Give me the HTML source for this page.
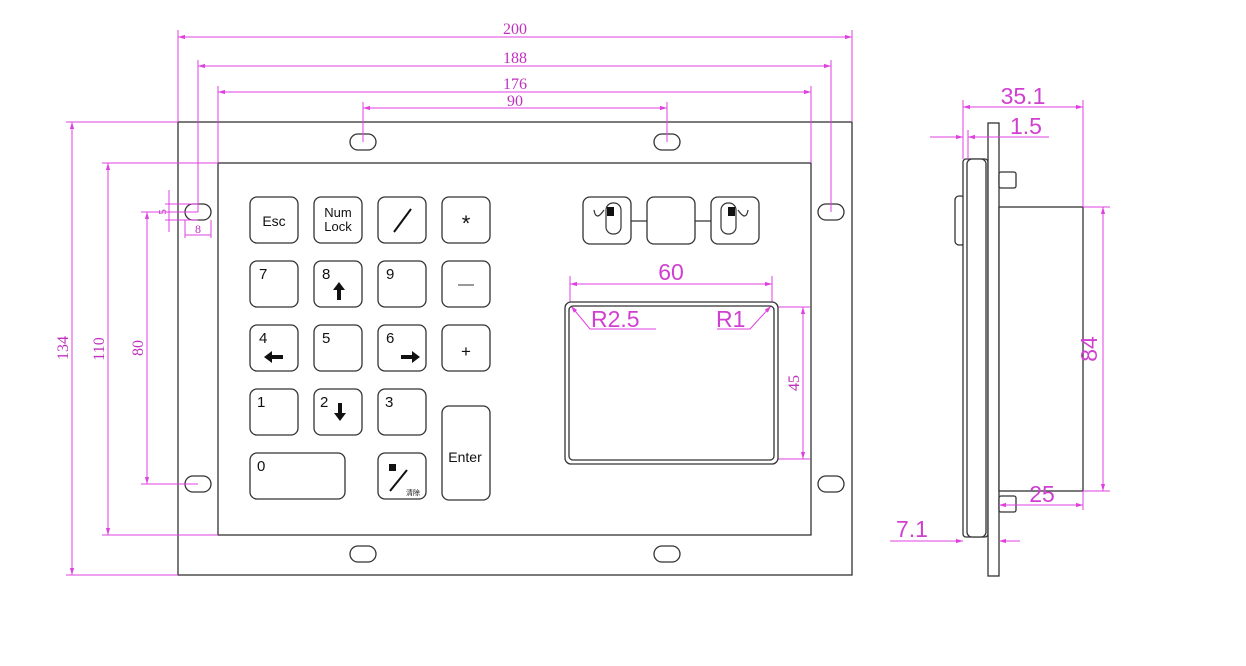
<!DOCTYPE html>
<html><head><meta charset="utf-8"><style>
body{margin:0;background:#fff;}
svg{display:block;font-family:"Liberation Sans","Noto Sans CJK SC",sans-serif;}
.k{fill:#fff;stroke:#333;stroke-width:1.3}
.d{stroke:#e040e0;stroke-width:1;fill:none}
.t{fill:#c030c0;font-family:"Liberation Serif",serif;font-size:16px}
.s{fill:#d040d0;font-family:"Liberation Sans",sans-serif;font-size:23px}
.kt{font-size:15px;fill:#111}
</style></head><body>
<svg width="1246" height="666" viewBox="0 0 1246 666">
<defs><marker id="a" viewBox="0 0 10 10" refX="10" refY="5" markerWidth="10" markerHeight="7" orient="auto-start-reverse"><path d="M0,2L10,5L0,8z" fill="#e040e0"/></marker></defs>
<rect x="178" y="122" width="674" height="453" fill="none" stroke="#333" stroke-width="1.3"/>
<rect x="218" y="163" width="593" height="372" fill="none" stroke="#333" stroke-width="1.3"/>
<g fill="#fff" stroke="#333" stroke-width="1.3">
<rect x="350" y="134" width="26" height="16" rx="8"/><rect x="654" y="134" width="26" height="16" rx="8"/>
<rect x="350" y="546" width="26" height="16" rx="8"/><rect x="654" y="546" width="26" height="16" rx="8"/>
<rect x="185" y="204" width="26" height="16" rx="8"/><rect x="185" y="476" width="26" height="16" rx="8"/>
<rect x="818" y="204" width="26" height="16" rx="8"/><rect x="818" y="476" width="26" height="16" rx="8"/>
</g>
<g class="d">
<line x1="178" y1="30" x2="178" y2="122"/><line x1="852" y1="30" x2="852" y2="122"/>
<line x1="178" y1="37" x2="852" y2="37" marker-start="url(#a)" marker-end="url(#a)"/>
<line x1="198" y1="60" x2="198" y2="212"/><line x1="831" y1="60" x2="831" y2="212"/>
<line x1="198" y1="66" x2="831" y2="66" marker-start="url(#a)" marker-end="url(#a)"/>
<line x1="218" y1="86" x2="218" y2="163"/><line x1="811" y1="86" x2="811" y2="163"/>
<line x1="218" y1="92" x2="811" y2="92" marker-start="url(#a)" marker-end="url(#a)"/>
<line x1="363" y1="102" x2="363" y2="142"/><line x1="667" y1="102" x2="667" y2="142"/>
<line x1="363" y1="108" x2="667" y2="108" marker-start="url(#a)" marker-end="url(#a)"/>
<line x1="66" y1="122" x2="178" y2="122"/><line x1="66" y1="575" x2="178" y2="575"/>
<line x1="72" y1="122" x2="72" y2="575" marker-start="url(#a)" marker-end="url(#a)"/>
<line x1="102" y1="163" x2="218" y2="163"/><line x1="102" y1="535" x2="218" y2="535"/>
<line x1="108" y1="163" x2="108" y2="535" marker-start="url(#a)" marker-end="url(#a)"/>
<line x1="141" y1="212" x2="198" y2="212"/><line x1="141" y1="484" x2="198" y2="484"/>
<line x1="147" y1="212" x2="147" y2="484" marker-start="url(#a)" marker-end="url(#a)"/>
<line x1="165" y1="204" x2="198" y2="204"/><line x1="165" y1="220" x2="198" y2="220"/>
<line x1="169" y1="190" x2="169" y2="232"/>
<line x1="185" y1="220" x2="185" y2="238"/><line x1="211" y1="220" x2="211" y2="238"/>
<line x1="185" y1="235" x2="211" y2="235"/>
<line x1="570" y1="276" x2="570" y2="302"/><line x1="772" y1="276" x2="772" y2="302"/>
<line x1="570" y1="284" x2="772" y2="284" marker-start="url(#a)" marker-end="url(#a)"/>
<line x1="778" y1="307" x2="810" y2="307"/><line x1="778" y1="459" x2="810" y2="459"/>
<line x1="803" y1="307" x2="803" y2="459" marker-start="url(#a)" marker-end="url(#a)"/>
<polyline points="571,306 590,329 656,329" marker-start="url(#a)"/>
<polyline points="771,306 750,329 717,329" marker-start="url(#a)"/>
</g>
<text class="t" x="515" y="34" text-anchor="middle">200</text>
<text class="t" x="515" y="63" text-anchor="middle">188</text>
<text class="t" x="515" y="89" text-anchor="middle">176</text>
<text class="t" x="515" y="106" text-anchor="middle">90</text>
<text class="t" transform="translate(68,348) rotate(-90)" text-anchor="middle">134</text>
<text class="t" transform="translate(104,349) rotate(-90)" text-anchor="middle">110</text>
<text class="t" transform="translate(143,348) rotate(-90)" text-anchor="middle">80</text>
<text class="t" style="font-size:11px" transform="translate(166,212) rotate(-90)" text-anchor="middle">5</text>
<text class="t" style="font-size:12px" x="198" y="233" text-anchor="middle">8</text>
<text class="t" transform="translate(799,383) rotate(-90)" text-anchor="middle">45</text>
<text class="s" x="671" y="280" text-anchor="middle">60</text>
<text class="s" x="591" y="327">R2.5</text>
<text class="s" x="716" y="327">R1</text>
<g>
<rect class="k" x="250" y="197" width="48" height="46" rx="7"/>
<rect class="k" x="314" y="197" width="48" height="46" rx="7"/>
<rect class="k" x="378" y="197" width="48" height="46" rx="7"/>
<rect class="k" x="442" y="197" width="48" height="46" rx="7"/>
<rect class="k" x="250" y="261" width="48" height="46" rx="7"/>
<rect class="k" x="314" y="261" width="48" height="46" rx="7"/>
<rect class="k" x="378" y="261" width="48" height="46" rx="7"/>
<rect class="k" x="442" y="261" width="48" height="46" rx="7"/>
<rect class="k" x="250" y="325" width="48" height="46" rx="7"/>
<rect class="k" x="314" y="325" width="48" height="46" rx="7"/>
<rect class="k" x="378" y="325" width="48" height="46" rx="7"/>
<rect class="k" x="442" y="325" width="48" height="46" rx="7"/>
<rect class="k" x="250" y="389" width="48" height="46" rx="7"/>
<rect class="k" x="314" y="389" width="48" height="46" rx="7"/>
<rect class="k" x="378" y="389" width="48" height="46" rx="7"/>
<rect class="k" x="442" y="406" width="48" height="94" rx="7"/>
<rect class="k" x="250" y="453" width="95" height="46" rx="7"/>
<rect class="k" x="378" y="453" width="48" height="46" rx="7"/>
</g>
<g class="kt">
<text x="274" y="226" text-anchor="middle" font-size="14">Esc</text>
<text x="338" y="217" text-anchor="middle" font-size="13">Num</text>
<text x="338" y="231" text-anchor="middle" font-size="13">Lock</text>
<line x1="394" y1="232" x2="411" y2="209" stroke="#111" stroke-width="2"/>
<text x="466" y="231" text-anchor="middle" font-size="22">*</text>
<text x="259" y="279">7</text><text x="322" y="279">8</text><text x="386" y="279">9</text>
<line x1="458" y1="285" x2="474" y2="285" stroke="#333"/>
<text x="259" y="343">4</text><text x="322" y="343">5</text><text x="386" y="343">6</text>
<text x="466" y="357" text-anchor="middle" font-size="17">+</text>
<text x="257" y="407">1</text><text x="320" y="407">2</text><text x="385" y="407">3</text>
<text x="257" y="471">0</text>
<text x="465" y="462" text-anchor="middle" font-size="14">Enter</text>
<text x="413" y="495" text-anchor="middle" font-size="7">清除</text>
</g>
<g fill="#111">
<path d="M339,282l-6,8h4v10h4v-10h4z"/>
<path d="M340,421l-6,-8h4v-10h4v10h4z"/>
<path d="M264,357l8,-6v4h11v4h-11v4z"/>
<path d="M420,357l-8,-6v4h-11v4h11v4z"/>
<rect x="389" y="464" width="7" height="7"/>
</g>
<line x1="390" y1="491" x2="407" y2="470" stroke="#111" stroke-width="2"/>
<line x1="631" y1="221" x2="711" y2="221" stroke="#333" stroke-width="1.2"/>
<rect class="k" x="583" y="197" width="48" height="47" rx="7"/>
<rect class="k" x="647" y="197" width="48" height="47" rx="7"/>
<rect class="k" x="711" y="197" width="48" height="47" rx="7"/>
<g fill="none" stroke="#333" stroke-width="1.2">
<rect x="606" y="203" width="15" height="31" rx="7"/>
<rect x="721" y="203" width="15" height="31" rx="7"/>
<path d="M594,210q2,12 10,0M738,210q8,12 10,0"/>
</g>
<rect x="607" y="207" width="7" height="9" fill="#111"/>
<rect x="728" y="207" width="7" height="9" fill="#111"/>
<rect x="565" y="302" width="213" height="162" rx="6" fill="none" stroke="#333" stroke-width="1.3"/>
<rect x="569" y="306" width="205" height="154" rx="4" fill="none" stroke="#333" stroke-width="1.3"/>
<g fill="#fff" stroke="#333" stroke-width="1.3">
<rect x="955" y="196" width="10" height="49" rx="4"/>
<rect x="963" y="159" width="25" height="378" rx="3"/>
<rect x="967" y="159" width="19" height="378" rx="5"/>
<rect x="988" y="123" width="11" height="453"/>
<rect x="999" y="207" width="84" height="284"/>
<rect x="999" y="172" width="17" height="16" rx="2"/>
<rect x="999" y="496" width="17" height="16" rx="2"/>
</g>
<g class="d">
<line x1="963" y1="100" x2="963" y2="159"/><line x1="1083" y1="100" x2="1083" y2="207"/>
<line x1="963" y1="107" x2="1083" y2="107" marker-start="url(#a)" marker-end="url(#a)"/>
<line x1="930" y1="137" x2="963" y2="137" marker-end="url(#a)"/>
<line x1="1049" y1="137" x2="968" y2="137" marker-end="url(#a)"/>
<line x1="968" y1="130" x2="968" y2="159"/>
<line x1="1083" y1="207" x2="1110" y2="207"/><line x1="1083" y1="491" x2="1110" y2="491"/>
<line x1="1103" y1="207" x2="1103" y2="491" marker-start="url(#a)" marker-end="url(#a)"/>
<line x1="999" y1="505" x2="1083" y2="505" marker-start="url(#a)" marker-end="url(#a)"/>
<line x1="1083" y1="491" x2="1083" y2="510"/>
<line x1="890" y1="541" x2="963" y2="541" marker-end="url(#a)"/>
<line x1="1020" y1="541" x2="999" y2="541" marker-end="url(#a)"/>
</g>
<text class="s" x="1023" y="104" text-anchor="middle">35.1</text>
<text class="s" x="1026" y="134" text-anchor="middle">1.5</text>
<text class="s" transform="translate(1097,349) rotate(-90)" text-anchor="middle">84</text>
<text class="s" x="1042" y="502" text-anchor="middle">25</text>
<text class="s" x="912" y="537" text-anchor="middle">7.1</text>
</svg>
</body></html>
